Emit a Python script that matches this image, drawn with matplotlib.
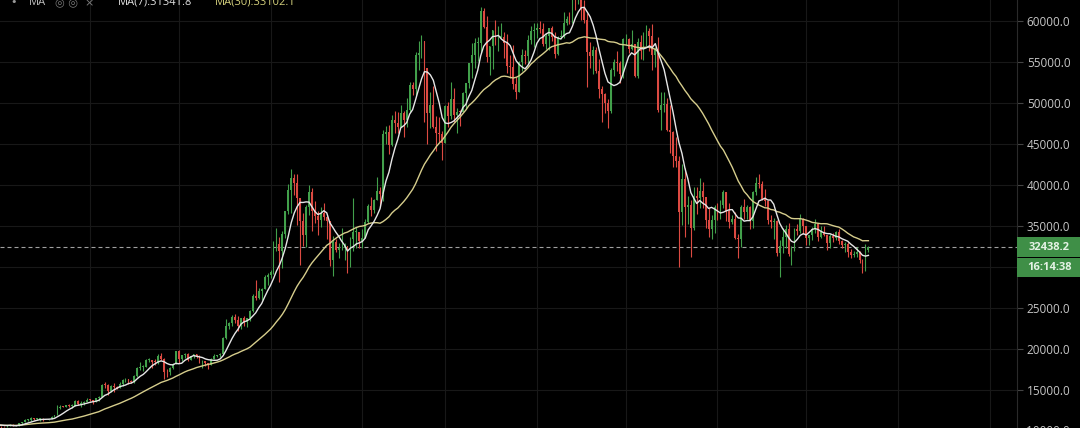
import numpy as np
import pandas as pd
import matplotlib
matplotlib.use("Agg")
import matplotlib.pyplot as plt
from matplotlib.patches import Rectangle
from matplotlib.transforms import blended_transform_factory

# daily BTC candles, 2020-09-27 .. 2021-07-22, values in thousands of USD
first_open = 10.73
closes = [
    10.77, 10.69, 10.84, 10.78,  # sep 27-30
    10.62, 10.57, 10.55, 10.67, 10.79, 10.60, 10.67, 10.92, 11.06, 11.30,
    11.38, 11.55, 11.43, 11.43, 11.50, 11.32, 11.36, 11.48, 11.74, 11.92,
    12.82, 12.97, 12.93, 13.11, 13.03, 13.03, 13.64, 13.27, 13.45, 13.56, 13.78,  # oct
    13.74, 13.55, 14.02, 14.15, 15.59, 15.58, 14.83, 15.48, 15.33, 15.30,
    15.70, 16.28, 16.32, 16.07, 15.96, 16.72, 17.65, 17.78, 17.82, 18.68,
    18.69, 18.42, 18.37, 19.16, 18.72, 17.15, 17.14, 17.72, 18.18, 19.70,  # nov
    18.79, 19.22, 19.45, 18.70, 19.15, 19.36, 19.17, 18.32, 18.55, 18.26,
    18.06, 18.80, 19.17, 19.27, 19.44, 21.31, 22.81, 23.14, 23.87, 23.48,
    22.75, 23.82, 23.25, 23.72, 24.66, 26.44, 26.27, 27.04, 27.37, 28.84, 29.00,  # dec
    29.37, 32.13, 32.78, 31.97, 33.99, 36.82, 39.37, 40.80, 40.25, 38.36,
    35.57, 33.92, 37.32, 39.19, 36.82, 36.18, 35.79, 36.63, 36.07, 35.55,
    30.83, 33.01, 32.08, 32.26, 32.37, 32.57, 30.43, 33.47, 34.32, 34.32, 33.11,  # jan
    33.54, 35.51, 37.47, 36.93, 38.14, 39.27, 38.90, 46.20, 46.48, 44.92,
    47.91, 47.50, 47.11, 48.72, 47.94, 49.20, 52.15, 51.68, 55.89, 56.10,
    57.54, 54.21, 48.82, 49.71, 47.09, 46.34, 46.19, 45.14,  # feb
    49.63, 48.38, 50.54, 48.56, 48.93, 48.91, 51.21, 52.38, 54.88, 55.85,
    57.33, 57.34, 61.24, 59.30, 55.66, 56.90, 58.91, 57.65, 58.03, 58.10,
    57.35, 54.53, 54.34, 52.30, 51.32, 55.03, 55.85, 55.78, 57.63, 58.73, 58.92,  # mar
    59.10, 59.00, 57.16, 58.19, 59.13, 57.99, 56.00, 58.08, 58.09, 59.77,
    60.20, 59.89, 63.50, 63.11, 63.31, 61.57, 60.11, 56.22, 55.72, 56.47,
    53.91, 51.76, 51.09, 50.05, 49.00, 54.02, 55.03, 54.82, 53.56, 57.75,  # apr
    57.83, 56.63, 57.21, 53.33, 57.42, 56.40, 57.36, 58.80, 58.23, 55.86,
    56.61, 49.15, 49.72, 49.88, 46.76, 46.43, 43.54, 42.91, 36.70, 40.78,
    37.30, 37.54, 34.77, 38.71, 38.40, 39.29, 38.53, 35.68, 34.62, 35.68, 37.34,  # may
    36.68, 37.58, 39.19, 36.87, 35.52, 35.80, 33.55, 33.40, 37.30, 36.70,
    37.33, 35.55, 39.10, 40.22, 40.16, 38.35, 38.05, 35.79, 35.48, 35.60,
    31.68, 32.51, 33.68, 34.66, 31.64, 32.16, 34.64, 34.43, 35.87, 35.04,  # jun
    33.57, 33.90, 34.66, 35.29, 33.69, 34.23, 33.86, 32.88, 33.82, 33.52,
    34.24, 33.16, 32.70, 32.82, 31.78, 31.42, 31.53, 31.80, 30.82, 29.81,
    32.11, 32.4382,  # jul
]
highs = [
    10.80, 10.94, 10.86, 10.85,
    10.93, 10.65, 10.60, 10.70, 10.80, 10.80, 10.69, 10.96, 11.10, 11.49,
    11.43, 11.70, 11.56, 11.55, 11.54, 11.54, 11.40, 11.49, 11.80, 12.00,
    13.18, 13.16, 13.02, 13.15, 13.34, 13.25, 13.76, 13.84, 13.63, 13.65, 14.03,
    13.86, 13.81, 14.07, 14.24, 15.75, 15.96, 15.76, 15.66, 15.83, 15.47,
    15.93, 16.34, 16.47, 16.32, 16.16, 16.87, 17.76, 18.39, 18.09, 18.78,
    18.94, 18.70, 18.76, 19.38, 19.48, 18.91, 17.50, 17.83, 18.33, 19.75,
    19.92, 19.31, 19.53, 19.53, 19.16, 19.41, 19.40, 19.29, 18.62, 18.55,
    18.28, 18.92, 19.38, 19.32, 19.56, 21.46, 23.64, 23.25, 24.09, 24.24,
    24.06, 23.84, 24.08, 23.78, 24.71, 26.72, 28.39, 27.39, 27.39, 28.99, 29.30,
    29.60, 33.16, 34.79, 33.60, 34.41, 36.88, 40.18, 41.95, 41.38, 41.35,
    38.27, 36.57, 37.60, 40.00, 39.67, 37.99, 36.80, 37.30, 37.85, 36.40,
    35.55, 33.80, 33.45, 32.90, 34.80, 32.90, 32.55, 33.70, 38.40, 34.88, 34.30,
    34.64, 35.91, 37.66, 38.59, 38.30, 40.95, 39.80, 46.70, 47.25, 47.32,
    48.50, 48.97, 48.85, 49.70, 49.00, 50.60, 52.60, 52.53, 56.20, 57.50,
    58.35, 57.50, 54.20, 51.30, 52.04, 48.40, 48.35, 46.60,
    49.80, 50.10, 52.60, 51.80, 49.40, 49.20, 51.40, 52.40, 54.90, 57.30,
    57.95, 58.00, 61.70, 61.60, 60.60, 56.95, 58.90, 60.10, 59.40, 59.80,
    58.60, 58.40, 55.80, 57.10, 53.20, 55.10, 56.60, 56.50, 58.30, 59.40, 59.80,
    59.70, 60.00, 59.80, 58.50, 59.20, 59.40, 58.60, 58.20, 58.90, 61.10,
    60.60, 61.10, 63.70, 64.80, 63.80, 63.60, 62.50, 61.00, 57.40, 57.00,
    56.80, 55.40, 52.10, 51.20, 50.50, 54.30, 55.40, 56.40, 55.10, 57.90,
    58.40, 57.90, 58.90, 57.20, 57.90, 58.30, 58.60, 59.50, 59.20, 59.60,
    56.80, 58.00, 51.30, 51.40, 50.60, 49.70, 46.60, 45.80, 43.50, 42.50,
    42.10, 38.70, 38.20, 39.80, 39.70, 40.80, 40.40, 38.20, 37.20, 36.40, 37.50,
    37.80, 38.20, 39.40, 39.20, 37.80, 36.40, 36.70, 34.00, 37.50, 38.30,
    37.60, 37.40, 39.30, 41.00, 41.30, 40.50, 39.50, 38.20, 36.40, 36.00,
    35.70, 33.30, 34.80, 35.10, 35.40, 32.60, 34.70, 35.20, 36.50, 36.00,
    35.00, 33.90, 34.90, 35.90, 35.30, 35.00, 35.00, 33.90, 34.00, 34.20,
    34.40, 34.60, 33.30, 33.10, 33.10, 32.20, 31.90, 32.40, 31.90, 31.00,
    32.80, 32.60,
]
lows = [
    10.63, 10.64, 10.64, 10.68,
    10.54, 10.42, 10.51, 10.52, 10.64, 10.55, 10.59, 10.63, 10.83, 11.06,
    11.28, 11.22, 11.33, 11.31, 11.28, 11.23, 11.30, 11.33, 11.42, 11.67,
    11.90, 12.71, 12.89, 12.89, 12.93, 12.80, 13.06, 13.19, 12.98, 13.14, 13.63,
    13.62, 13.24, 13.53, 13.70, 14.11, 15.21, 14.42, 14.70, 14.80, 15.09,
    15.28, 15.44, 15.95, 15.71, 15.80, 15.87, 16.55, 17.41, 17.35, 17.77,
    18.47, 17.70, 18.05, 18.14, 18.62, 16.33, 16.53, 16.87, 17.53, 18.18,
    18.33, 18.50, 18.92, 18.58, 18.64, 18.93, 18.92, 18.24, 17.66, 17.96,
    17.62, 18.02, 18.76, 19.00, 19.08, 19.29, 21.23, 22.43, 22.79, 23.11,
    22.16, 22.49, 22.76, 22.74, 23.43, 24.52, 25.99, 26.13, 25.93, 27.32, 27.85,
    28.70, 29.09, 32.00, 28.13, 29.90, 33.51, 36.49, 36.57, 38.76, 35.11,
    30.27, 32.56, 32.41, 36.33, 34.41, 35.40, 33.90, 34.90, 35.70, 33.42,
    30.07, 28.95, 31.80, 31.10, 32.10, 30.90, 29.30, 30.00, 31.99, 32.30, 32.30,
    32.30, 33.50, 35.40, 36.20, 36.60, 38.20, 37.36, 38.10, 45.00, 43.80,
    44.70, 46.40, 46.30, 47.10, 45.80, 47.10, 48.90, 50.94, 50.90, 54.00,
    55.50, 47.70, 45.00, 47.00, 46.98, 44.20, 45.30, 43.00,
    45.10, 47.10, 48.10, 47.70, 46.30, 47.15, 48.90, 49.30, 51.85, 53.10,
    54.30, 55.10, 56.10, 59.10, 55.00, 53.40, 54.20, 57.10, 56.30, 57.90,
    55.50, 53.70, 53.00, 51.70, 50.45, 51.30, 53.95, 54.70, 54.90, 57.20, 56.80,
    57.90, 58.50, 57.00, 56.60, 56.50, 57.60, 55.50, 55.90, 57.80, 57.90,
    59.50, 59.60, 59.80, 61.30, 62.10, 60.10, 59.70, 52.00, 54.30, 53.50,
    53.70, 50.60, 47.70, 48.80, 47.00, 48.80, 53.30, 53.90, 52.40, 53.10,
    57.10, 56.10, 56.50, 53.20, 53.10, 55.40, 55.30, 56.90, 56.30, 54.00,
    54.40, 48.90, 46.70, 48.90, 46.60, 43.90, 42.20, 42.20, 30.00, 35.10,
    33.60, 35.30, 31.20, 34.50, 36.50, 37.20, 37.20, 34.70, 33.70, 33.40, 34.20,
    35.70, 35.90, 37.20, 35.60, 34.80, 35.30, 33.40, 31.10, 32.40, 35.80,
    35.90, 34.60, 34.80, 38.80, 39.60, 38.20, 37.40, 35.20, 34.80, 33.40,
    31.30, 28.80, 31.70, 32.30, 31.30, 30.20, 32.00, 33.90, 34.20, 34.00,
    32.70, 32.70, 33.30, 34.10, 33.20, 33.50, 33.80, 32.10, 32.30, 33.00,
    33.30, 32.80, 32.30, 31.80, 31.20, 31.10, 31.20, 31.20, 30.50, 29.30,
    29.50, 31.80,
]
ma7_label = "MA(7):31341.8"
ma30_label = "MA(30):33102.1"
countdown = "16:14:38"
y_ticks = [15000, 20000, 25000, 30000, 35000, 40000, 45000, 50000, 55000, 60000]

dates = pd.date_range("2020-09-27", "2021-07-22", freq="D")
n = min(len(dates), len(closes), len(highs), len(lows))
dates = dates[:n]
c = np.array(closes[:n]) * 1000
h = np.array(highs[:n]) * 1000
l = np.array(lows[:n]) * 1000
o = np.concatenate([[first_open * 1000], c[:-1]])
days = np.arange(n)

df = pd.DataFrame({"close": c})
ma7 = df["close"].rolling(7, min_periods=1).mean()
ma30 = df["close"].rolling(30, min_periods=1).mean()

W, H = 1080, 428
ymin, ymax = 10366, 62560
upp = (ymax - ymin) / H  # price units per pixel

fig = plt.figure(figsize=(W / 100, H / 100), dpi=100, facecolor="black")
ax = fig.add_axes([0, 0, 1017 / W, 1])
ax.set_facecolor("black")

up_col = "#42a04b"
dn_col = "#dc4a42"
cols = np.where(c >= o, up_col, dn_col)
bottoms = np.minimum(o, c)
heights = np.maximum(np.abs(c - o), upp * 0.9)
ax.vlines(days, l, h, colors=cols, lw=0.8, zorder=2)
ax.bar(days, heights, bottom=bottoms, width=0.62, color=cols, linewidth=0, zorder=3)

ax.plot(days, ma30, color="#d6cd8c", lw=1.0, zorder=4)
ax.plot(days, ma7, color="#e6e6e6", lw=1.0, zorder=5)

last = c[-1]
ax.axhline(last, color="#a0a0a0", lw=0.8, ls=(0, (3.6, 2.7)), zorder=1)

# month grid
month_starts = pd.date_range("2020-10-01", "2021-09-01", freq="MS")
mdays = [(m - dates[0]).days for m in month_starts]
for d in mdays:
    ax.axvline(d, color="#181818", lw=0.8, zorder=0)
for t in y_ticks:
    ax.axhline(t, color="#181818", lw=0.8, zorder=0)

ax.set_xlim(4.6, 348.2)
ax.set_ylim(ymin, ymax)
ax.set_xticks([])
ax.yaxis.tick_right()
ax.set_yticks(y_ticks)
ax.set_yticklabels([f"{t:.1f}" for t in y_ticks], fontfamily="Open Sans", fontsize=8.5)
ax.tick_params(axis="y", colors="#444444", labelcolor="#c6c6c6", length=4, width=0.8, pad=3)
for s in ["top", "left", "bottom"]:
    ax.spines[s].set_visible(False)
ax.spines["right"].set_color("#2a2a2a")
ax.spines["right"].set_linewidth(0.8)

# bottom partial label
blend_ax = blended_transform_factory(ax.transAxes, ax.transData)
ax.text(1.0, 10000, "   10000.0", transform=blend_ax, ha="left", va="center",
        fontfamily="Open Sans", fontsize=8.5, color="#c6c6c6", clip_on=False)

# price and countdown boxes
blend = blended_transform_factory(fig.transFigure, ax.transData)
x0 = 1017 / W
bw = 63 / W
bh = 19.5 * upp
ax.add_patch(Rectangle((x0, last - bh / 2), bw, bh, transform=blend,
                       facecolor="#3f8f47", edgecolor="none", clip_on=False, zorder=6))
ax.add_patch(Rectangle((x0, last - bh / 2 - 20.5 * upp), bw, bh, transform=blend,
                       facecolor="#3f8f47", edgecolor="none", clip_on=False, zorder=6))
ax.text(x0 + bw / 2 + 1 / W, last, f"{last:.1f}", transform=blend, ha="center", va="center",
        fontfamily="Open Sans", fontsize=8, fontweight="bold", color="#e4f2e4", zorder=7, clip_on=False)
ax.text(x0 + bw / 2 + 1 / W, last - 20.5 * upp, countdown, transform=blend, ha="center",
        va="center", fontfamily="Open Sans", fontsize=8, fontweight="bold", color="#e4f2e4",
        zorder=7, clip_on=False)

# top legend, clipped by the figure edge
yb = 1 - 5 / H
fig.text(10 / W, yb, "•", color="#9a9a9a", fontsize=8, va="baseline")
fig.text(29 / W, yb, "MA", color="#bdbdbd", fontsize=8, fontfamily="Open Sans", va="baseline")
fig.text(55 / W, yb, "◎ ◎  ×", color="#7a7a7a", fontsize=8, va="baseline")
fig.text(118 / W, yb, ma7_label, color="#e0e0e0", fontsize=8, fontfamily="Open Sans", va="baseline")
fig.text(215 / W, yb, ma30_label, color="#d4d07c", fontsize=8, fontfamily="Open Sans", va="baseline")

fig.savefig("out.png", dpi=100, facecolor="black")
